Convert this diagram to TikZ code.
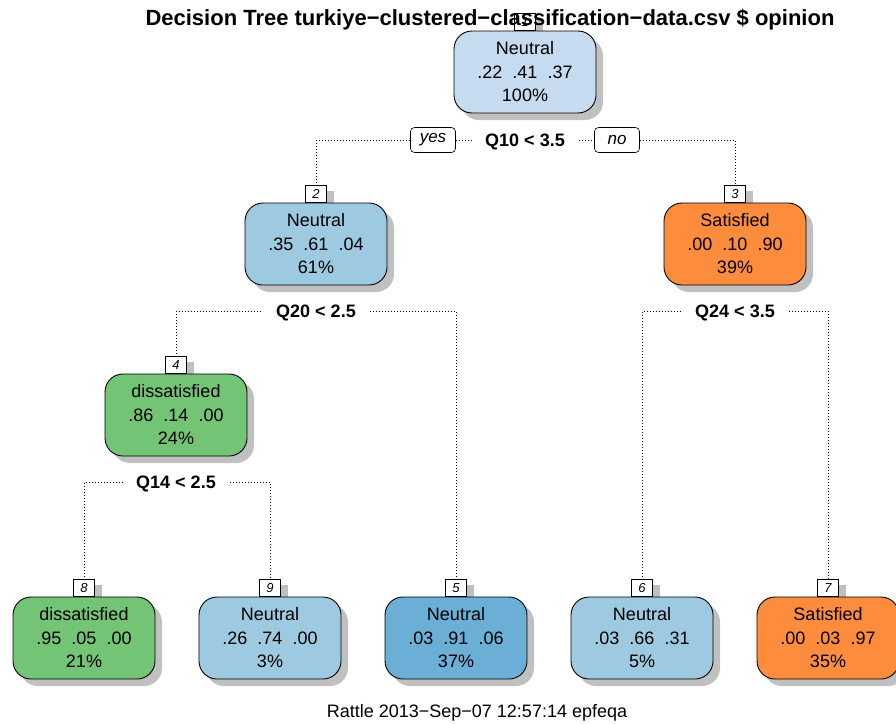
\documentclass[tikz,border=0pt]{standalone}
\usepackage{fontspec}
\setmainfont{Liberation Sans}
\usetikzlibrary{shadows}
\definecolor{cA}{RGB}{198,219,239}
\definecolor{cB}{RGB}{158,202,225}
\definecolor{cC}{RGB}{107,174,214}
\definecolor{cO}{RGB}{253,141,60}
\definecolor{cG}{RGB}{116,196,118}
\definecolor{shd}{RGB}{192,192,192}
\tikzset{
 tnode/.style={draw, line width=0.9pt, rounded corners=18pt, minimum width=142pt, minimum height=82pt, align=center, inner sep=0pt, font=\fontsize{18}{23.5}\selectfont, execute at begin node={\rule{0pt}{20pt}}, general shadow={fill=shd, shadow xshift=7pt, shadow yshift=-7pt}},
 nlab/.style={draw, fill=white, line width=0.6pt, minimum width=21pt, minimum height=17pt, inner sep=0pt, anchor=south, font=\fontsize{13}{13}\selectfont\itshape, general shadow={fill=shd, shadow xshift=7pt, shadow yshift=-5pt}},
 yn/.style={draw, fill=white, line width=0.6pt, rounded corners=4pt, minimum width=45pt, minimum height=25pt, inner sep=0pt, font=\fontsize{17}{17}\selectfont\itshape},
 split/.style={inner xsep=14pt, inner ysep=2pt, text height=13pt, text depth=0pt, font=\fontsize{18}{18}\selectfont\bfseries},
 conn/.style={line width=0.8pt, dash pattern=on 0.8pt off 2.2pt},
}
\begin{document}
\begin{tikzpicture}[x=1pt, y=-1pt]
\useasboundingbox (0,0) rectangle (896,723);
% node number labels (drawn first, beneath the boxes)
\node[nlab] (l1) at (525,31) {1};
\node[nlab] (l2) at (316,203) {2};
\node[nlab] (l3) at (735,203) {3};
\node[nlab] (l4) at (176,374) {4};
\node[nlab] (l8) at (84,597) {8};
\node[nlab] (l9) at (270,597) {9};
\node[nlab] (l5) at (456,597) {5};
\node[nlab] (l6) at (642,597) {6};
\node[nlab] (l7) at (828,597) {7};
% tree nodes
\node[tnode, fill=cA] (n1) at (525,72) {Neutral\\.22~~.41~~.37\\100\%};
\node[tnode, fill=cB] (n2) at (316,244) {Neutral\\.35~~.61~~.04\\61\%};
\node[tnode, fill=cO] (n3) at (735,244) {Satisfied\\.00~~.10~~.90\\39\%};
\node[tnode, fill=cG] (n4) at (176,415) {dissatisfied\\.86~~.14~~.00\\24\%};
\node[tnode, fill=cG] (n8) at (84,638) {dissatisfied\\.95~~.05~~.00\\21\%};
\node[tnode, fill=cB] (n9) at (270,638) {Neutral\\.26~~.74~~.00\\3\%};
\node[tnode, fill=cC] (n5) at (456,638) {Neutral\\.03~~.91~~.06\\37\%};
\node[tnode, fill=cB] (n6) at (642,638) {Neutral\\.03~~.66~~.31\\5\%};
\node[tnode, fill=cO] (n7) at (828,638) {Satisfied\\.00~~.03~~.97\\35\%};
% split labels
\node[split] (q10) at (525,140) {Q10 < 3.5};
\node[yn] (yes) at (433,140) {yes};
\node[yn] (no) at (617,140) {no};
\node[split] (q20) at (316,311) {Q20 < 2.5};
\node[split] (q24) at (735,311) {Q24 < 3.5};
\node[split] (q14) at (176,482) {Q14 < 2.5};
% connectors
\draw[conn] (l2.north) |- (yes.west);
\draw[conn] (yes.east) -- (q10.west);
\draw[conn] (q10.east) -- (no.west);
\draw[conn] (no.east) -| (l3.north);
\draw[conn] (l4.north) |- (q20.west);
\draw[conn] (q20.east) -| (l5.north);
\draw[conn] (l6.north) |- (q24.west);
\draw[conn] (q24.east) -| (l7.north);
\draw[conn] (l8.north) |- (q14.west);
\draw[conn] (q14.east) -| (l9.north);
% title and footer
\node[anchor=base, inner sep=0pt, font=\fontsize{22}{22}\selectfont\bfseries] (title) at (490,25) {Decision Tree turkiye−clustered−classification−data.csv \$ opinion};
\node[anchor=base, inner sep=0pt, font=\fontsize{18}{18}\selectfont] (foot) at (477,717) {Rattle 2013−Sep−07 12:57:14 epfeqa};
\end{tikzpicture}
\end{document}
